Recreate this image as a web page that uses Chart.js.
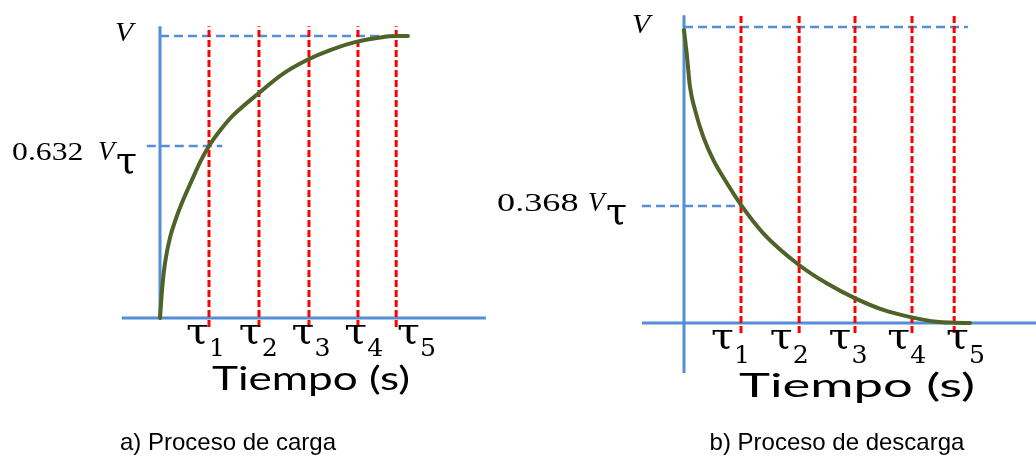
<!DOCTYPE html>
<html>
<head>
<meta charset="utf-8">
<script src="https://cdn.jsdelivr.net/npm/chart.js@4.4.1/dist/chart.umd.min.js"></script>
<style>
  body { margin: 0; background: #fff; }
  #page { position: relative; width: 1036px; height: 456px; overflow: hidden; font-family: "Liberation Sans", Arial, sans-serif; }
  canvas { position: absolute; top: 0; }
  .caption { position: absolute; top: 430px; width: 400px; text-align: center; font-size: 24px; line-height: 24px; color: #000; }
</style>
</head>
<body>
<div id="page">
  <canvas id="carga"></canvas>
  <canvas id="descarga"></canvas>
  <div class="caption" id="cap-a" style="left:28px">a) Proceso de carga</div>
  <div class="caption" id="cap-b" style="left:637px">b) Proceso de descarga</div>
</div>
<script>
// shared text
const tauSymbol = 'τ';
const tauLabels = ['1', '2', '3', '4', '5'];
const axisTitle = 'Tiempo (s)';
const vLabel = 'V';

// a) carga : x in tau units, y in fractions of V
const chargeTau = [1, 2.02, 3.04, 4.04, 4.82];
const chargeTime = [0, 0.047, 0.102, 0.204, 0.341, 0.476, 0.647, 0.816, 1.0, 1.25, 1.5, 2.0, 2.5, 3.0, 3.5, 4.0, 4.5, 4.82, 5.06];
const chargeVolt = [0, 0.111, 0.195, 0.285, 0.36, 0.42, 0.487, 0.552, 0.61, 0.67, 0.72, 0.795, 0.865, 0.915, 0.952, 0.979, 0.995, 1.0, 1.0];
const chargeMark = 0.61;
const chargeMarkLabel = '0.632';

// b) descarga
const dischargeTau = [1, 2.02, 3.0, 4.0, 4.74];
const dischargeTime = [0, 0.047, 0.105, 0.193, 0.339, 0.514, 0.719, 1.0, 1.391, 2.018, 2.504, 3.005, 3.496, 3.995, 4.433, 4.742, 5.018];
const dischargeVolt = [0.99, 0.911, 0.798, 0.720, 0.629, 0.551, 0.483, 0.399, 0.303, 0.196, 0.134, 0.083, 0.044, 0.019, 0.004, 0.001, 0];
const dischargeMark = 0.395;
const dischargeMarkLabel = '0.368';

const BLUE = '#558ED5';
const RED = '#FF0000';
const GREEN = '#4F6228';

// page-pixel layout for each panel
const leftLayout = {
  left: 0, width: 492, height: 456, origin: [160, 318], pxTau: 49, pxV: 282,
  xAxis: [-0.78, 6.65], yAxis: [0, 1.035], tauLine: [-0.032, 1.035],
  vLine: [0, 5.06], markLine: [-0.27, 1.27],
  stretch: 1.27,
  tauLabelStart: 186, tauLabelStep: 52.75, tauBase: 25, digitBase: 38,
  title: { x0: 212, x1: 410, base: 72 },
  vText: { x: 115, dy: 4.5 },
  markText: { x: 12, dy: 14, vx: 98, tx: 116, tdy: 27 }
};
const rightLayout = {
  left: 492, width: 544, height: 456, origin: [684, 323], pxTau: 57, pxV: 296,
  xAxis: [-0.737, 6.2], yAxis: [-0.169, 1.04], tauLine: [-0.034, 1.04],
  vLine: [0, 4.98], markLine: [-0.737, 1.0],
  stretch: 1.45,
  tauLabelStart: 711, tauLabelStep: 58.75, tauBase: 25, digitBase: 40,
  title: { x0: 739, x1: 975, base: 74 },
  vText: { x: 632, dy: 6 },
  markText: { x: 497, dy: 5, vx: 588, tx: 606, tdy: 18 }
};

function seg(x0, y0, x1, y1) {
  return [{ x: x0, y: y0 }, { x: x1, y: y1 }];
}

function drawText(ctx, str, x, y, font, sx) {
  ctx.save();
  ctx.translate(x, y);
  ctx.scale(sx, 1);
  ctx.font = font;
  ctx.fillStyle = '#000';
  ctx.textAlign = 'left';
  ctx.textBaseline = 'alphabetic';
  ctx.fillText(str, 0, 0);
  const w = ctx.measureText(str).width * sx;
  ctx.restore();
  return w;
}

function labelPlugin(L, markValue, markLabel) {
  return {
    id: 'labels',
    afterDatasetsDraw(chart) {
      const ctx = chart.ctx;
      const ys = chart.scales.y;
      const y0 = ys.getPixelForValue(0);
      const sx = L.stretch;
      // tau labels under the axis
      tauLabels.forEach((d, i) => {
        const x = L.tauLabelStart + i * L.tauLabelStep - L.left;
        const w = drawText(ctx, tauSymbol, x, y0 + L.tauBase, '36px "DejaVu Serif"', 1.15);
        drawText(ctx, d, x + w, y0 + L.digitBase, '24px "DejaVu Serif"', 1.05);
      });
      // axis title stretched to its width
      ctx.save();
      ctx.font = '32px Lato';
      const tw = ctx.measureText(axisTitle).width;
      ctx.restore();
      drawText(ctx, axisTitle, L.title.x0 - L.left, y0 + L.title.base, '32px Lato', (L.title.x1 - L.title.x0) / tw);
      // V at the top
      const yV = ys.getPixelForValue(1);
      drawText(ctx, vLabel, L.vText.x - L.left, yV + L.vText.dy, 'italic 27px "Liberation Serif"', 1.1);
      // mark label
      const yM = ys.getPixelForValue(markValue);
      const m = L.markText;
      drawText(ctx, markLabel, m.x - L.left, yM + m.dy, '25px "Liberation Serif"', sx);
      drawText(ctx, vLabel, m.vx - L.left, yM + m.dy, 'italic 27px "Liberation Serif"', 1);
      drawText(ctx, tauSymbol, m.tx - L.left, yM + m.tdy, '38px "DejaVu Serif"', 1);
    }
  };
}

function makePanel(id, L, tauArr, timeArr, voltArr, markValue, markLabel) {
  const canvas = document.getElementById(id);
  canvas.width = L.width;
  canvas.height = L.height;
  canvas.style.left = L.left + 'px';
  const ox = L.origin[0] - L.left, oy = L.origin[1];

  const curve = timeArr.map((t, i) => ({ x: t, y: voltArr[i] }));
  const datasets = [
    { data: curve, borderColor: GREEN, borderWidth: 4, cubicInterpolationMode: 'monotone', borderCapStyle: 'round', order: 0 }
  ];
  tauArr.forEach(t => {
    datasets.push({ data: seg(t, L.tauLine[0], t, L.tauLine[1]), borderColor: RED, borderWidth: 3, borderDash: [7, 3], order: 1 });
  });
  datasets.push({ data: seg(L.vLine[0], 1, L.vLine[1], 1), borderColor: BLUE, borderWidth: 2.5, borderDash: [9, 5], order: 2 });
  datasets.push({ data: seg(L.markLine[0], markValue, L.markLine[1], markValue), borderColor: BLUE, borderWidth: 2.5, borderDash: [9, 5], order: 2 });
  datasets.push({ data: seg(L.xAxis[0], 0, L.xAxis[1], 0), borderColor: BLUE, borderWidth: 3, order: 3 });
  datasets.push({ data: seg(0, L.yAxis[0], 0, L.yAxis[1]), borderColor: BLUE, borderWidth: 3, order: 3 });

  datasets.forEach(d => { d.pointRadius = 0; d.fill = false; });

  return new Chart(canvas.getContext('2d'), {
    type: 'line',
    data: { datasets },
    options: {
      responsive: false,
      animation: false,
      devicePixelRatio: 1,
      layout: { padding: 0 },
      plugins: { legend: { display: false }, tooltip: { enabled: false } },
      scales: {
        x: { type: 'linear', display: false, min: -ox / L.pxTau, max: (L.width - ox) / L.pxTau },
        y: { type: 'linear', display: false, min: -(L.height - oy) / L.pxV, max: oy / L.pxV }
      }
    },
    plugins: [labelPlugin(L, markValue, markLabel)]
  });
}

makePanel('carga', leftLayout, chargeTau, chargeTime, chargeVolt, chargeMark, chargeMarkLabel);
makePanel('descarga', rightLayout, dischargeTau, dischargeTime, dischargeVolt, dischargeMark, dischargeMarkLabel);
</script>
</body>
</html>
